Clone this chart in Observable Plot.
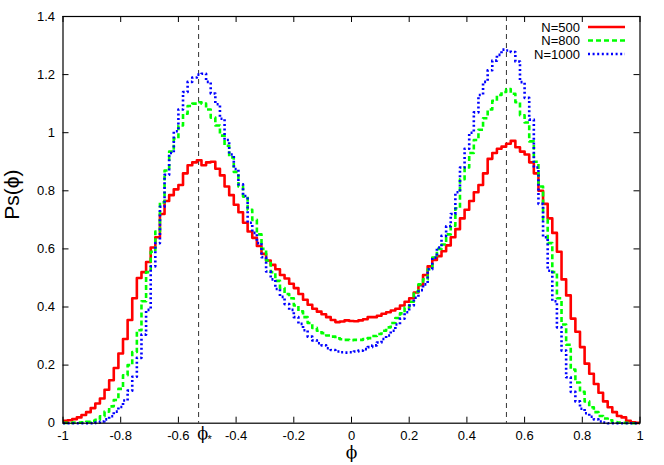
<!DOCTYPE html>
<html><head><meta charset="utf-8">
<script src="https://cdn.jsdelivr.net/npm/d3@7"></script>
<script src="https://cdn.jsdelivr.net/npm/@observablehq/plot@0.6"></script>
<style>
body{margin:0;background:#fff;}
#wrap{position:relative;width:664px;height:465px;font-family:"Liberation Sans",Arial,Helvetica,sans-serif;}
#legend{position:absolute;left:0;top:0;pointer-events:none;}
</style></head><body><div id="wrap"></div>
<script>
// histogram bins: left edge of first bin and bin width
const binStart = -1;
const binWidth = 0.016;
const xTicks = [-1, -0.8, -0.6, -0.4, -0.2, 0, 0.2, 0.4, 0.6, 0.8, 1];
const yTicks = [0, 0.2, 0.4, 0.6, 0.8, 1, 1.2, 1.4];
const phiStar = [-0.53, 0.537];
const seriesNames = ["N=500", "N=800", "N=1000"];
const seriesColors = ["#ff0000", "#00ff00", "#0000ff"];

const n500 = [
0.008,0.010,0.014,0.020,0.028,0.038,0.052,0.068,0.085,0.115,
0.148,0.190,0.240,0.290,0.355,0.430,0.500,0.520,0.555,0.605,
0.640,0.720,0.765,0.785,0.805,0.820,0.860,0.888,0.898,0.905,
0.888,0.898,0.900,0.876,0.853,0.815,0.785,0.752,0.726,0.690,
0.660,0.638,0.610,0.583,0.560,0.545,0.530,0.510,0.498,0.480,
0.465,0.445,0.425,0.408,0.394,0.384,0.375,0.365,0.355,0.348,
0.350,0.354,0.352,0.351,0.354,0.358,0.365,0.365,0.370,0.377,
0.382,0.388,0.394,0.405,0.418,0.430,0.450,0.475,0.510,0.540,
0.562,0.575,0.592,0.612,0.640,0.668,0.705,0.735,0.765,0.795,
0.820,0.860,0.910,0.930,0.945,0.952,0.962,0.972,0.950,0.935,
0.925,0.898,0.860,0.800,0.755,0.705,0.655,0.590,0.495,0.440,
0.360,0.315,0.262,0.205,0.170,0.135,0.105,0.075,0.055,0.038,
0.025,0.020,0.008,0.003,0.001];

const n800 = [
0.001,0.001,0.002,0.002,0.003,0.005,0.008,0.012,0.024,0.040,
0.058,0.080,0.118,0.165,0.200,0.245,0.320,0.420,0.520,0.590,
0.660,0.760,0.870,0.935,0.980,1.025,1.065,1.092,1.100,1.105,
1.100,1.080,1.052,1.025,0.990,0.955,0.915,0.865,0.815,0.780,
0.735,0.700,0.650,0.600,0.560,0.520,0.490,0.465,0.445,0.430,
0.405,0.385,0.365,0.345,0.328,0.318,0.310,0.302,0.298,0.292,
0.289,0.287,0.286,0.287,0.287,0.290,0.293,0.300,0.307,0.318,
0.330,0.345,0.362,0.378,0.398,0.418,0.452,0.478,0.495,0.530,
0.570,0.600,0.615,0.650,0.680,0.740,0.840,0.880,0.930,0.975,
1.010,1.050,1.080,1.110,1.130,1.140,1.150,1.134,1.105,1.060,
1.035,0.970,0.900,0.815,0.700,0.620,0.520,0.430,0.340,0.270,
0.185,0.140,0.108,0.075,0.055,0.038,0.025,0.016,0.010,0.004,
0.002,0.001,0.001,0.000,0.000];

const n1000 = [
0.000,0.000,0.000,0.000,0.000,0.000,0.000,0.002,0.006,0.013,
0.024,0.040,0.056,0.078,0.112,0.160,0.225,0.305,0.390,0.540,
0.620,0.745,0.855,0.930,1.005,1.080,1.140,1.175,1.190,1.200,
1.203,1.175,1.135,1.098,1.048,0.975,0.925,0.875,0.822,0.782,
0.690,0.655,0.620,0.571,0.522,0.495,0.462,0.435,0.410,0.390,
0.365,0.342,0.320,0.298,0.285,0.275,0.268,0.258,0.252,0.247,
0.244,0.243,0.244,0.247,0.250,0.255,0.262,0.268,0.278,0.290,
0.302,0.318,0.340,0.360,0.382,0.405,0.432,0.458,0.478,0.530,
0.570,0.605,0.645,0.678,0.720,0.795,0.880,0.945,1.000,1.070,
1.130,1.175,1.215,1.248,1.268,1.286,1.283,1.278,1.245,1.174,
1.120,1.045,0.880,0.755,0.640,0.525,0.420,0.330,0.250,0.158,
0.108,0.075,0.050,0.034,0.022,0.013,0.006,0.002,0.000,0.000,
0.000,0.000,0.000,0.000,0.000];

const series = [n500, n800, n1000];

function stepData(vals, name) {
  const pts = vals.map((v, i) => ({x: binStart + i * binWidth, y: v, s: name}));
  pts.push({x: binStart + vals.length * binWidth, y: vals[vals.length - 1], s: name});
  return pts;
}

const W = 664, H = 465;
const mL = 62.5, mR = 24.5, mT = 16, mB = 42.3;
const tickLen = 6;
const iW = W - mL - mR, iH = H - mT - mB;
const font = '"Liberation Sans", Arial, Helvetica, sans-serif';
const symFont = '"DejaVu Serif", "Liberation Serif", serif';
const dashes = [null, "5,3", "2,2.6"];

const chart = Plot.plot({
  width: W, height: H,
  marginLeft: mL, marginRight: mR, marginTop: mT, marginBottom: mB,
  x: {domain: [-1, 1]},
  y: {domain: [0, 1.4]},
  style: {fontFamily: font, fontSize: "13px", color: "#000", background: "#fff"},
  marks: [
    Plot.ruleX(phiStar, {stroke: "#333", strokeWidth: 1, strokeDasharray: "5,4"}),
    ...series.map((vals, k) => Plot.lineY(stepData(vals, seriesNames[k]), {
      x: "x", y: "y", curve: "step-after",
      stroke: seriesColors[k], strokeWidth: 2.6,
      strokeDasharray: dashes[k], strokeLinecap: "butt"
    })),
    Plot.ruleX(xTicks, {insetTop: iH - tickLen, stroke: "#000"}),
    Plot.ruleX(xTicks, {insetBottom: iH - tickLen, stroke: "#000"}),
    Plot.ruleY(yTicks, {insetRight: iW - tickLen, stroke: "#000"}),
    Plot.ruleY(yTicks, {insetLeft: iW - tickLen, stroke: "#000"}),
    Plot.frame({stroke: "#000", strokeWidth: 1.2}),
    Plot.axisX(xTicks, {tickSize: 0, tickPadding: 8, tickFormat: d => String(d), label: null, fontSize: 13}),
    Plot.axisY(yTicks, {tickSize: 0, tickPadding: 8, tickFormat: d => String(d), label: null, fontSize: 13}),
    Plot.text([phiStar[0]], {x: d => d, text: () => "ϕ", frameAnchor: "bottom", dy: 16, dx: 4, fontSize: 16, fontFamily: symFont}),
    Plot.text([phiStar[0]], {x: d => d, text: () => "*", frameAnchor: "bottom", dy: 20, dx: 11, fontSize: 11}),
    Plot.text(["ϕ"], {frameAnchor: "bottom", dy: 35, fontSize: 17, fontFamily: symFont}),
    Plot.text(["Ps(ϕ)"], {frameAnchor: "left", dx: -51, rotate: -90, fontSize: 21})
  ]
});

const wrap = document.getElementById("wrap");
wrap.appendChild(chart);

// legend overlay
const ns = "http://www.w3.org/2000/svg";
const leg = document.createElementNS(ns, "svg");
leg.setAttribute("id", "legend");
leg.setAttribute("width", W);
leg.setAttribute("height", 80);
seriesNames.forEach((name, k) => {
  const cy = 27 + k * 13.5;
  const t = document.createElementNS(ns, "text");
  t.setAttribute("x", 580);
  t.setAttribute("y", cy);
  t.setAttribute("dy", "0.35em");
  t.setAttribute("text-anchor", "end");
  t.setAttribute("font-size", "13");
  t.setAttribute("font-family", font);
  t.textContent = name;
  leg.appendChild(t);
  const l = document.createElementNS(ns, "line");
  l.setAttribute("x1", 588); l.setAttribute("x2", 625);
  l.setAttribute("y1", cy); l.setAttribute("y2", cy);
  l.setAttribute("stroke", seriesColors[k]);
  l.setAttribute("stroke-width", 2.6);
  if (dashes[k]) l.setAttribute("stroke-dasharray", dashes[k]);
  leg.appendChild(l);
});
wrap.appendChild(leg);
</script>
</body></html>
